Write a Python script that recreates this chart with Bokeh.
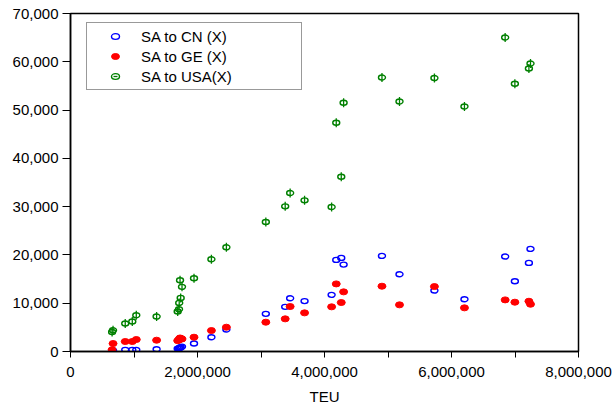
import math
from bokeh.plotting import figure
from bokeh.models import (FixedTicker, NumeralTickFormatter, Range1d, Legend,
                          LegendItem, ColumnDataSource)
from bokeh.embed import file_html
from bokeh.resources import INLINE

# TEU (x) shared by all series
teu = [655000, 670000, 862000, 973000, 1036000, 1356000,
       1688000, 1709000, 1712000, 1725000, 1735000, 1756000,
       1945000, 2219000, 2455000,
       3076000, 3381000, 3459000, 3686000,
       4112000, 4185000, 4264000, 4301000,
       4905000, 5181000, 5731000, 6204000,
       6845000, 6998000, 7219000, 7244000]

sa_to_cn = [150, 250, 340, 340, 340, 480,
            600, 650, 700, 800, 900, 1000,
            1650, 2960, 4550,
            7800, 9250, 11030, 10440,
            11730, 18970, 19380, 18000,
            19800, 16000, 12620, 10830,
            19660, 14550, 18350, 21250]

sa_to_ge = [350, 1650, 2070, 2070, 2480, 2340,
            2250, 2400, 2600, 2800, 2700, 2600,
            2960, 4340, 5030,
            6070, 6760, 9310, 8000,
            9250, 14000, 10140, 12350,
            13520, 9660, 13450, 9040,
            10690, 10210, 10410, 9790]

sa_to_usa = [4050, 4400, 5790, 6200, 7520, 7240,
             8280, 8760, 10070, 14760, 11100, 13390,
             15170, 19100, 21580,
             26830, 30060, 32830, 31300,
             29930, 47380, 36200, 51520,
             56750, 51790, 56630, 50750,
             65030, 55450, 58620, 59650]

labels = ["SA to CN (X)", "SA to GE (X)", "SA to USA(X)"]
x_major = [0, 2000000, 4000000, 6000000, 8000000]
x_minor = [1000000, 3000000, 5000000, 7000000]
y_ticks = [0, 10000, 20000, 30000, 40000, 50000, 60000, 70000]

FONT = "Liberation Sans"

src = ColumnDataSource(dict(x=teu, cn=sa_to_cn, ge=sa_to_ge, usa=sa_to_usa))

p = figure(frame_width=508, frame_height=338,
           x_range=Range1d(0, 8000000), y_range=Range1d(0, 70000),
           output_backend="svg", toolbar_location=None,
           min_border_left=70, min_border_right=34,
           min_border_top=13, min_border_bottom=57)

p.xgrid.visible = False
p.ygrid.visible = False
p.outline_line_color = "black"
p.outline_line_width = 1.5
p.background_fill_color = "white"
p.border_fill_color = "white"

# axes
p.xaxis.ticker = FixedTicker(ticks=x_major, minor_ticks=x_minor)
p.yaxis.ticker = FixedTicker(ticks=y_ticks)
for ax in (p.xaxis[0], p.yaxis[0]):
    ax.formatter = NumeralTickFormatter(format="0,0")
    ax.axis_line_color = "black"
    ax.axis_line_width = 1.5
    ax.major_tick_line_color = "black"
    ax.minor_tick_line_color = "black"
    ax.major_tick_in = 0
    ax.minor_tick_in = 0
    ax.major_label_text_font = FONT
    ax.major_label_text_font_size = "15px"
    ax.major_label_text_color = "black"
    ax.axis_label_text_font = FONT
    ax.axis_label_text_font_size = "15px"
    ax.axis_label_text_font_style = "normal"
    ax.axis_label_text_color = "black"

p.xaxis.major_tick_out = 6
p.xaxis.minor_tick_out = 6
p.xaxis.major_label_standoff = 9
p.xaxis.axis_label = "TEU"
p.xaxis.axis_label_standoff = 8

p.yaxis.major_tick_out = 8
p.yaxis.minor_tick_line_color = None
p.yaxis.major_label_standoff = 4

# series
r_cn = p.ellipse(x="x", y="cn", source=src, width=7, height=5,
                 width_units="screen", height_units="screen",
                 fill_color=None, line_color="#0000FF", line_width=1.4)
r_ge = p.ellipse(x="x", y="ge", source=src, width=8, height=6,
                 width_units="screen", height_units="screen",
                 fill_color="#FF0000", line_color="#FF0000", line_width=1)
r_usa = p.ellipse(x="x", y="usa", source=src, width=7, height=5,
                  width_units="screen", height_units="screen",
                  fill_color=None, line_color="#008000", line_width=1.4)
r_usa_bar = p.scatter(x="x", y="usa", source=src, marker="dash", size=9,
                      angle=math.pi / 2, line_color="#008000", line_width=1.3)

legend = Legend(items=[
    LegendItem(label=labels[0], renderers=[r_cn]),
    LegendItem(label=labels[1], renderers=[r_ge]),
    LegendItem(label=labels[2], renderers=[r_usa, r_usa_bar]),
], location=(16, 261))
legend.border_line_color = "#333333"
legend.border_line_width = 1
legend.background_fill_color = "white"
legend.background_fill_alpha = 1
legend.padding = 3
legend.margin = 0
legend.spacing = 0
legend.glyph_width = 50
legend.glyph_height = 10
legend.label_height = 20
legend.label_width = 157
legend.label_standoff = 1
legend.label_text_font = FONT
legend.label_text_font_size = "15px"
legend.label_text_color = "black"
p.add_layout(legend, "center")

open("out.html", "w").write(file_html(p, INLINE))
